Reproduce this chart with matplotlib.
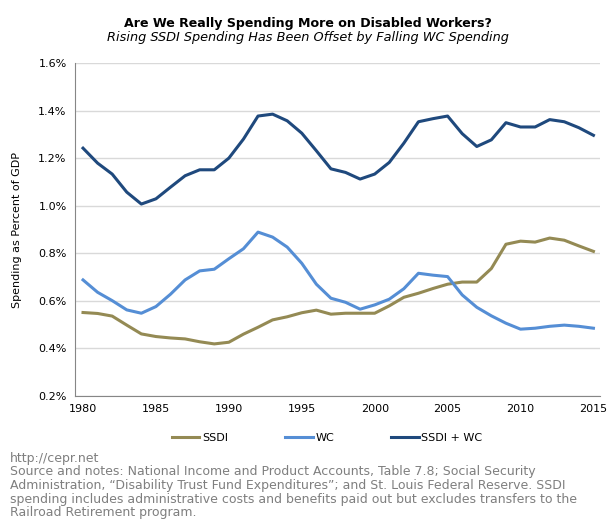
import numpy as np
from matplotlib import pyplot as plt
from matplotlib.ticker import FuncFormatter

years = list(range(1980, 2016))
ssdi = [0.551, 0.547, 0.536, 0.498, 0.461, 0.450, 0.444, 0.440, 0.428, 0.419,
        0.426, 0.460, 0.489, 0.520, 0.533, 0.550, 0.561, 0.544, 0.548, 0.548,
        0.548, 0.579, 0.615, 0.632, 0.652, 0.670, 0.679, 0.679, 0.736, 0.838,
        0.851, 0.847, 0.864, 0.855, 0.831, 0.808]
wc = [0.688, 0.636, 0.601, 0.562, 0.548, 0.576, 0.628, 0.688, 0.726, 0.733,
      0.777, 0.819, 0.889, 0.868, 0.826, 0.758, 0.670, 0.611, 0.594, 0.565,
      0.583, 0.607, 0.651, 0.716, 0.708, 0.702, 0.625, 0.573, 0.537, 0.506,
      0.481, 0.485, 0.493, 0.498, 0.493, 0.485]
total = [1.242, 1.179, 1.133, 1.057, 1.007, 1.029, 1.078, 1.126, 1.151, 1.151,
         1.200, 1.280, 1.377, 1.385, 1.357, 1.305, 1.231, 1.155, 1.140, 1.112,
         1.133, 1.182, 1.263, 1.353, 1.366, 1.377, 1.303, 1.249, 1.277, 1.349,
         1.331, 1.331, 1.362, 1.353, 1.328, 1.296]
series_names = ['SSDI', 'WC', 'SSDI + WC']
colors = ['#948A54', '#558ED5', '#1F497D']

plt.rcParams['font.family'] = 'DejaVu Sans'
fig = plt.figure(figsize=(6.15, 5.29), dpi=100)
ax = fig.add_axes([75 / 615, 1 - 396 / 529, 525 / 615, 333 / 529])

for vals, name, c in zip([ssdi, wc, total], series_names, colors):
    ax.plot(years, vals, color=c, lw=2.2, label=name, solid_joinstyle='round')

ax.set_xlim(1979.45, 2015.45)
ax.set_ylim(0.2, 1.6)
ax.set_xticks(range(1980, 2016, 5))
ax.set_yticks(np.arange(0.2, 1.61, 0.2))
ax.yaxis.set_major_formatter(FuncFormatter(lambda v, p: f'{v:.1f}%'))
ax.tick_params(length=0, labelsize=8, pad=6)
ax.grid(axis='y', color='#D9D9D9', lw=1)
ax.set_axisbelow(True)
for s in ['top', 'right']:
    ax.spines[s].set_visible(False)
for s in ['left', 'bottom']:
    ax.spines[s].set_color('#868686')
ax.set_ylabel('Spending as Percent of GDP', fontsize=8, labelpad=12)

fig.text(0.5, 1 - 23 / 529, 'Are We Really Spending More on Disabled Workers?',
         ha='center', va='center', fontsize=9.1, fontweight='bold')
fig.text(0.5, 1 - 37 / 529, 'Rising SSDI Spending Has Been Offset by Falling WC Spending',
         ha='center', va='center', fontsize=9.3, style='italic')

fig.legend(loc='center', bbox_to_anchor=(327 / 615, 1 - 438 / 529), ncol=3, frameon=False,
           fontsize=8, handlelength=2.5, handletextpad=0.25, columnspacing=5.1)

note = ('http://cepr.net\n'
        'Source and notes: National Income and Product Accounts, Table 7.8; Social Security\n'
        'Administration, \u201cDisability Trust Fund Expenditures\u201d; and St. Louis Federal Reserve. SSDI\n'
        'spending includes administrative costs and benefits paid out but excludes transfers to the\n'
        'Railroad Retirement program.')
fig.text(10 / 615, 1 - 452 / 529, note, ha='left', va='top', fontsize=9.0,
         color='#7F7F7F', linespacing=1.05)

fig.savefig('out.png', dpi=100)
